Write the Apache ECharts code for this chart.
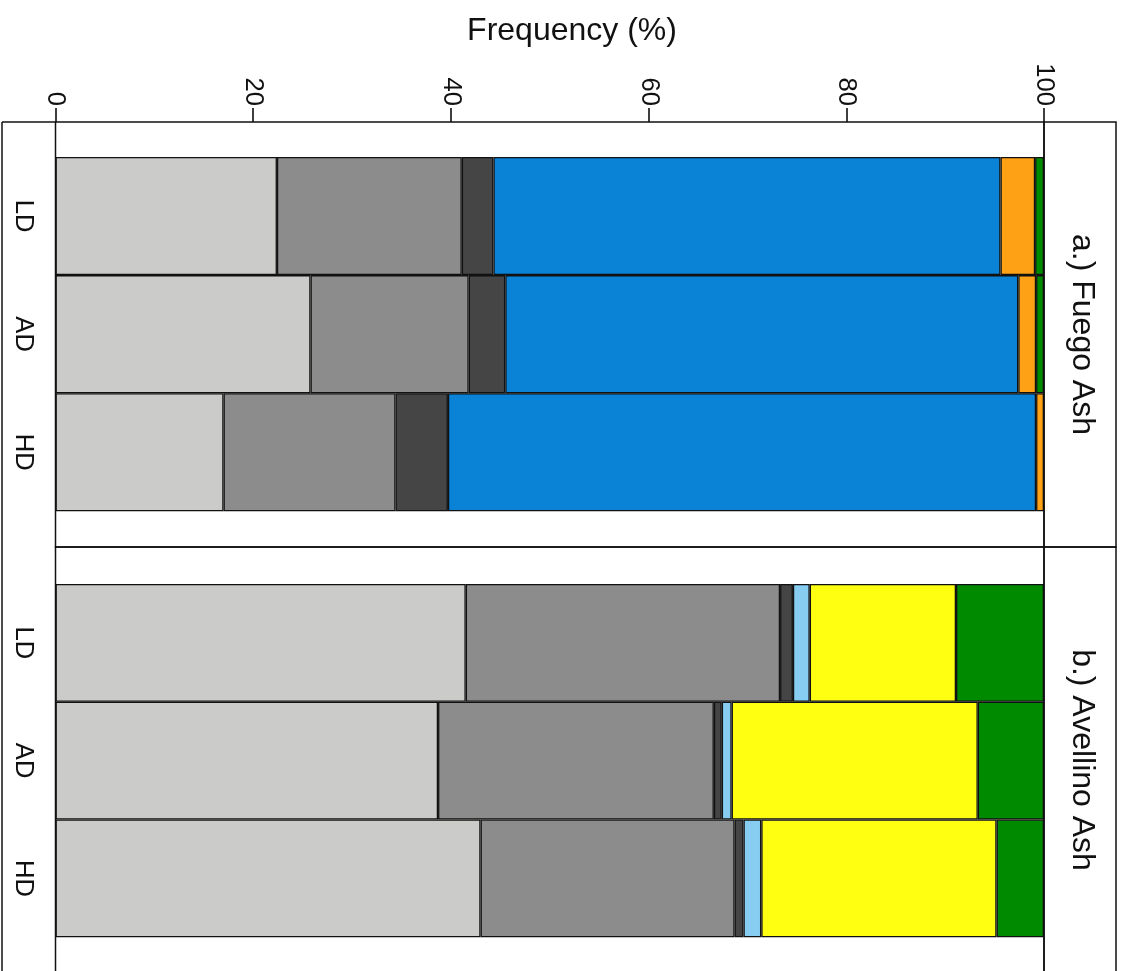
<!DOCTYPE html>
<html>
<head>
<meta charset="utf-8">
<script src="https://cdn.jsdelivr.net/npm/echarts@6/dist/echarts.min.js"></script>
<style>html,body{margin:0;padding:0;background:#fff}#c{width:1125px;height:971px}</style>
</head>
<body>
<div id="c"></div>
<script>
// ---- data ----
const categories = ['LD', 'AD', 'HD'];
const valueTicks = [0, 20, 40, 60, 80, 100];
const panelTitles = ['a.) Fuego Ash', 'b.) Avellino Ash'];
const componentNames = ['Light grey', 'Grey', 'Dark grey', 'Blue', 'Light blue', 'Yellow', 'Orange', 'Green'];
const componentColors = ['#CBCCCA', '#8C8C8C', '#454545', '#0A82D6', '#87CDF2', '#FFFF12', '#FFA114', '#008A00'];

// Fuego Ash (%), per category LD, AD, HD
const fuegoLightGrey = [22.4, 25.8, 17.0];
const fuegoGrey      = [18.7, 16.0, 17.4];
const fuegoDarkGrey  = [3.2, 3.7, 5.3];
const fuegoBlue      = [51.3, 51.9, 59.5];
const fuegoLightBlue = [0, 0, 0];
const fuegoYellow    = [0, 0, 0];
const fuegoOrange    = [3.5, 1.8, 0.8];
const fuegoGreen     = [0.9, 0.8, 0];

// Avellino Ash (%)
const avellinoLightGrey = [41.5, 38.7, 43.0];
const avellinoGrey      = [31.8, 27.9, 25.7];
const avellinoDarkGrey  = [1.3, 0.8, 0.9];
const avellinoBlue      = [0, 0, 0];
const avellinoLightBlue = [1.7, 1.0, 1.8];
const avellinoYellow    = [14.8, 24.9, 23.8];
const avellinoOrange    = [0, 0, 0];
const avellinoGreen     = [8.9, 6.7, 4.8];

const fuego = [fuegoLightGrey, fuegoGrey, fuegoDarkGrey, fuegoBlue, fuegoLightBlue, fuegoYellow, fuegoOrange, fuegoGreen];
const avellino = [avellinoLightGrey, avellinoGrey, avellinoDarkGrey, avellinoBlue, avellinoLightBlue, avellinoYellow, avellinoOrange, avellinoGreen];

// ---- layout ----
const FONT = "'Liberation Sans', Arial, Helvetica, sans-serif";
const X0 = 55.5, X1 = 1044, SX1 = 1116;
const panels = [{top: 122, bottom: 547, gridTop: 157, gridH: 354.3},
                {top: 547, bottom: 973, gridTop: 584, gridH: 353.3}];

const chart = echarts.init(document.getElementById('c'), null, {renderer: 'canvas'});

const grids = panels.map(p => ({left: X0, width: X1 - X0, top: p.gridTop, height: p.gridH, containLabel: false}));

const xAxes = panels.map((p, i) => ({
  type: 'value', gridIndex: i, min: valueTicks[0], max: valueTicks[valueTicks.length - 1],
  interval: valueTicks[1] - valueTicks[0],
  position: 'top', offset: p.gridTop - p.top,
  axisLine: {show: false}, splitLine: {show: false},
  axisTick: {show: i === 0, length: 14, lineStyle: {color: '#000', width: 1.5}},
  axisLabel: {show: i === 0, rotate: 90, margin: 16, color: '#111', fontSize: 25.6, fontFamily: FONT}
}));

const yAxes = panels.map((p, i) => ({
  type: 'category', gridIndex: i, data: categories, inverse: true,
  axisLine: {show: false}, axisTick: {show: false}, splitLine: {show: false},
  axisLabel: {rotate: -90, margin: 19, color: '#111', fontSize: 25.6, fontFamily: FONT}
}));

const series = [];
[fuego, avellino].forEach((set, gi) => {
  set.forEach((vals, ci) => {
    series.push({
      type: 'bar', name: componentNames[ci], xAxisIndex: gi, yAxisIndex: gi,
      stack: 'total' + gi, barCategoryGap: '0%',
      data: vals.map(v => v === 0 ? '-' : v),
      itemStyle: {color: componentColors[ci], borderColor: '#111', borderWidth: 1.3},
      emphasis: {disabled: true}, animation: false
    });
  });
});

const graphics = [];
panels.forEach((p, i) => {
  graphics.push({type: 'rect', z: 100, shape: {x: X0, y: p.top, width: X1 - X0, height: p.bottom - p.top},
    style: {fill: 'none', stroke: '#111', lineWidth: 1.5}});
  graphics.push({type: 'rect', z: 100, shape: {x: X1, y: p.top, width: SX1 - X1, height: p.bottom - p.top},
    style: {fill: 'none', stroke: '#111', lineWidth: 1.5}});
  graphics.push({type: 'text', z: 100, x: (X1 + SX1) / 2 + 2, y: (p.top + p.bottom) / 2, rotation: -Math.PI / 2,
    style: {text: panelTitles[i], fill: '#111', font: '32px ' + FONT, align: 'center', verticalAlign: 'middle'}});
});
graphics.push({type: 'line', z: 100, shape: {x1: 2, y1: 122, x2: 2, y2: 971}, style: {stroke: '#111', lineWidth: 1.5}});
graphics.push({type: 'line', z: 100, shape: {x1: 2, y1: 122, x2: X0, y2: 122}, style: {stroke: '#111', lineWidth: 1.5}});

chart.setOption({
  animation: false,
  backgroundColor: '#fff',
  title: {text: 'Frequency (%)', left: 567, top: 10, textAlign: 'center',
    textStyle: {fontSize: 32, fontWeight: 'normal', color: '#111', fontFamily: FONT}},
  grid: grids, xAxis: xAxes, yAxis: yAxes, series: series, graphic: graphics
});
</script>
</body>
</html>
